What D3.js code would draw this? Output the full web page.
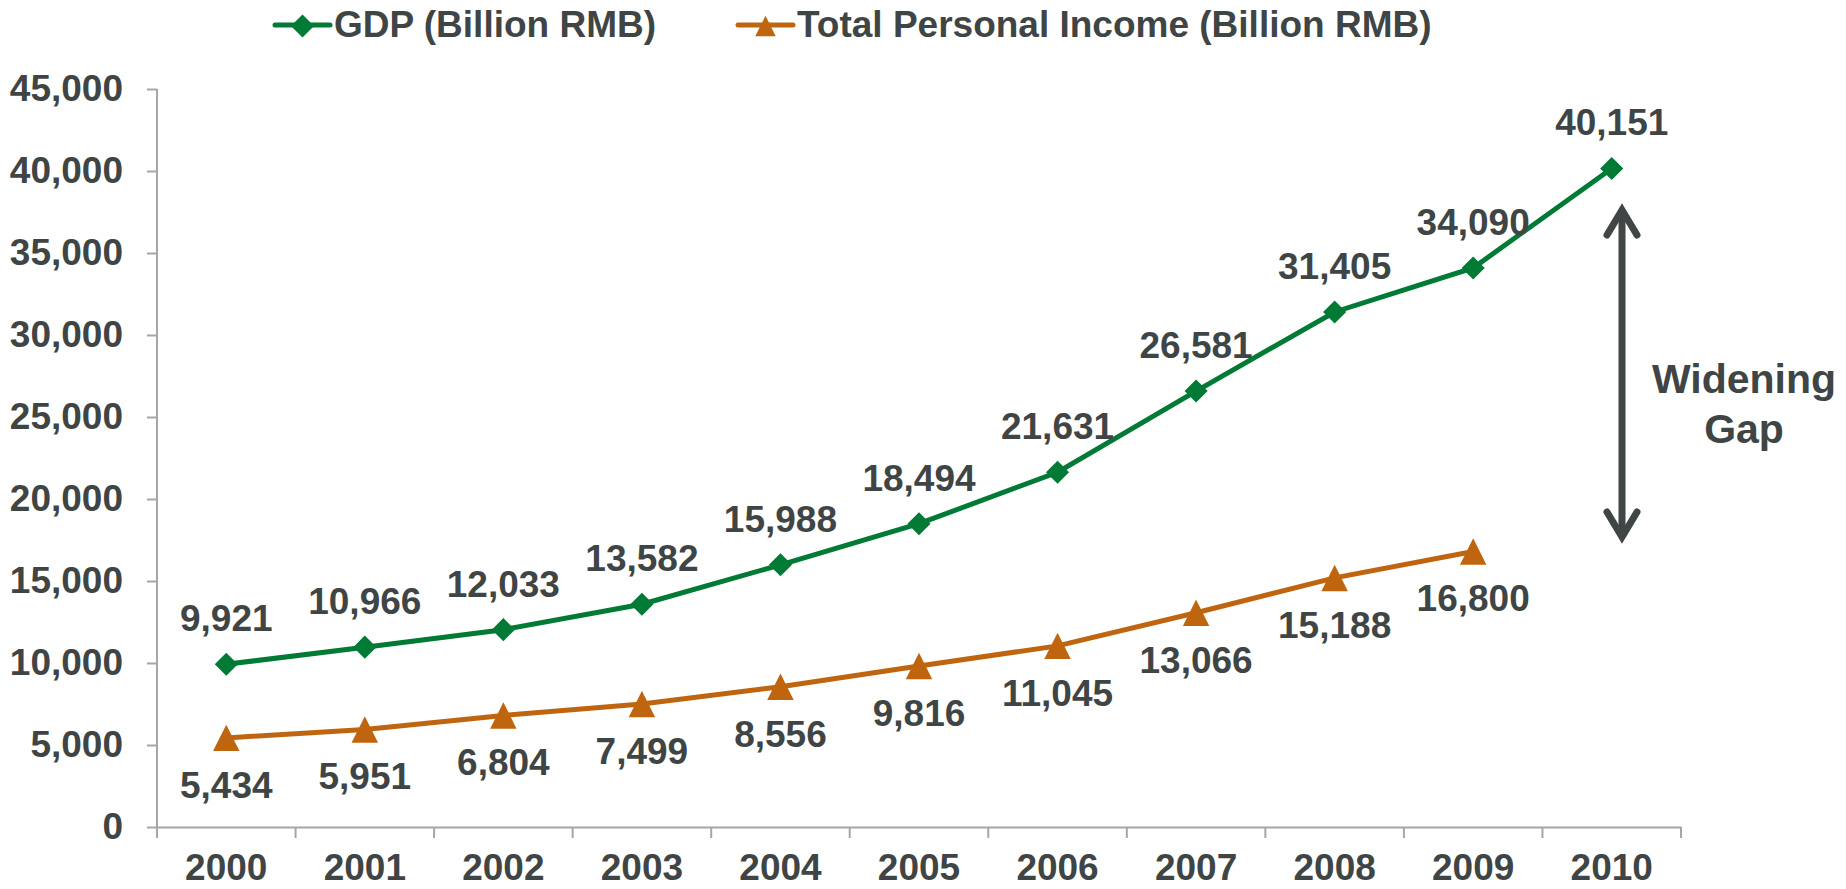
<!DOCTYPE html>
<html>
<head>
<meta charset="utf-8">
<script src="https://cdn.jsdelivr.net/npm/d3@7"></script>
<style>
  body { margin: 0; background: #fff; }
  text { font-family: "Liberation Sans", Arial, sans-serif; font-weight: bold; fill: #3f4545; }
</style>
</head>
<body>
<div id="chart"></div>
<script>
var years = ["2000","2001","2002","2003","2004","2005","2006","2007","2008","2009","2010"];
var gdp = [9921, 10966, 12033, 13582, 15988, 18494, 21631, 26581, 31405, 34090, 40151];
var income = [5434, 5951, 6804, 7499, 8556, 9816, 11045, 13066, 15188, 16800];
var yTicks = [0, 5000, 10000, 15000, 20000, 25000, 30000, 35000, 40000, 45000];
var seriesNames = ["GDP (Billion RMB)", "Total Personal Income (Billion RMB)"];

var W = 1846, H = 889;
var green = "#007a35", orange = "#c0650f", axisCol = "#a6a6a6";

var svg = d3.select("#chart").append("svg")
    .attr("width", W).attr("height", H);

var x = d3.scaleBand().domain(years).range([157, 1681]);
var y = d3.scaleLinear().domain([0, 45000]).range([827, 89]);
var cx = function(d, i){ return x(years[i]) + x.bandwidth()/2; };

// y axis
var yAxis = d3.axisLeft(y).tickValues(yTicks).tickSize(10).tickSizeOuter(0)
    .tickPadding(24).tickFormat(d3.format(","));
var gy = svg.append("g").attr("transform", "translate(157,0)").call(yAxis);
gy.selectAll("path, line").attr("stroke", axisCol).attr("stroke-width", 2);
gy.selectAll("text").style("font-size", "37px").attr("fill", "#3f4545");
gy.select(".domain").attr("d", "M0," + y(45000) + "V" + (y(0) + 11));

// x axis, ticks sit between the categories
var xAxis = d3.axisBottom(x).tickSize(0).tickSizeOuter(0).tickPadding(27);
var gx = svg.append("g").attr("transform", "translate(0," + y(0) + ")").call(xAxis);
gx.select(".domain").attr("stroke", axisCol).attr("stroke-width", 2);
gx.selectAll("text").style("font-size", "37px").attr("fill", "#3f4545");
var bounds = years.map(function(d){ return x(d); }).concat([x.range()[1]]);
gx.selectAll(".bnd").data(bounds).enter().append("line")
    .attr("x1", function(d){ return d; }).attr("x2", function(d){ return d; })
    .attr("y1", 0).attr("y2", 11)
    .attr("stroke", axisCol).attr("stroke-width", 2);

// lines
var line = d3.line().x(cx).y(function(d){ return y(d); });
svg.append("path").datum(gdp).attr("d", line)
    .attr("fill", "none").attr("stroke", green).attr("stroke-width", 5);
svg.append("path").datum(income).attr("d", line)
    .attr("fill", "none").attr("stroke", orange).attr("stroke-width", 5);

var diamond = d3.symbol().type(d3.symbolDiamond2).size(340);
// excel style triangle, as wide as tall
var triType = { draw: function(ctx, size){
  var h = Math.sqrt(size) / 2;
  ctx.moveTo(0, -h); ctx.lineTo(h, h); ctx.lineTo(-h, h); ctx.closePath();
}};
var tri = d3.symbol().type(triType).size(700);

svg.selectAll(".gm").data(gdp).enter().append("path")
    .attr("d", diamond).attr("fill", green)
    .attr("transform", function(d, i){ return "translate(" + cx(d, i) + "," + y(d) + ")"; });
svg.selectAll(".im").data(income).enter().append("path")
    .attr("d", tri).attr("fill", orange)
    .attr("transform", function(d, i){ return "translate(" + cx(d, i) + "," + y(d) + ")"; });

// data labels
var fmt = d3.format(",");
svg.selectAll(".gl").data(gdp).enter().append("text")
    .attr("x", cx).attr("y", function(d){ return y(d) - 46; })
    .attr("dy", "0.35em").attr("text-anchor", "middle")
    .style("font-size", "37px").text(fmt);
svg.selectAll(".il").data(income).enter().append("text")
    .attr("x", cx).attr("y", function(d){ return y(d) + 47; })
    .attr("dy", "0.35em").attr("text-anchor", "middle")
    .style("font-size", "37px").text(fmt);

// legend
var legTri = d3.symbol().type(triType).size(420);
var leg = [
  {name: seriesNames[0], color: green, sym: diamond, x0: 275},
  {name: seriesNames[1], color: orange, sym: legTri, x0: 738}
];
leg.forEach(function(l){
  svg.append("line").attr("x1", l.x0).attr("x2", l.x0 + 55).attr("y1", 25).attr("y2", 25)
      .attr("stroke", l.color).attr("stroke-width", 5).attr("stroke-linecap", "round");
  svg.append("path").attr("d", l.sym).attr("fill", l.color)
      .attr("transform", "translate(" + (l.x0 + 27.5) + ",26)");
  svg.append("text").attr("x", l.x0 + 59).attr("y", 37)
      .style("font-size", "37px").text(l.name);
});

// widening gap arrow
var ax = 1622, aTop = 208, aBot = 539;
var arrowCol = "#404646";
svg.append("line").attr("x1", ax).attr("x2", ax).attr("y1", aTop + 3).attr("y2", aBot - 3)
    .attr("stroke", arrowCol).attr("stroke-width", 7);
svg.append("path").attr("d", "M" + (ax - 15) + "," + (aTop + 27) + "L" + ax + "," + (aTop + 2) + "L" + (ax + 15) + "," + (aTop + 27))
    .attr("fill", "none").attr("stroke", arrowCol).attr("stroke-width", 7)
    .attr("stroke-linecap", "round").attr("stroke-linejoin", "miter");
svg.append("path").attr("d", "M" + (ax - 15) + "," + (aBot - 27) + "L" + ax + "," + (aBot - 2) + "L" + (ax + 15) + "," + (aBot - 27))
    .attr("fill", "none").attr("stroke", arrowCol).attr("stroke-width", 7)
    .attr("stroke-linecap", "round").attr("stroke-linejoin", "miter");
svg.append("text").attr("x", 1744).attr("y", 393).attr("text-anchor", "middle")
    .style("font-size", "41px").text("Widening");
svg.append("text").attr("x", 1744).attr("y", 443).attr("text-anchor", "middle")
    .style("font-size", "41px").text("Gap");
</script>
</body>
</html>
